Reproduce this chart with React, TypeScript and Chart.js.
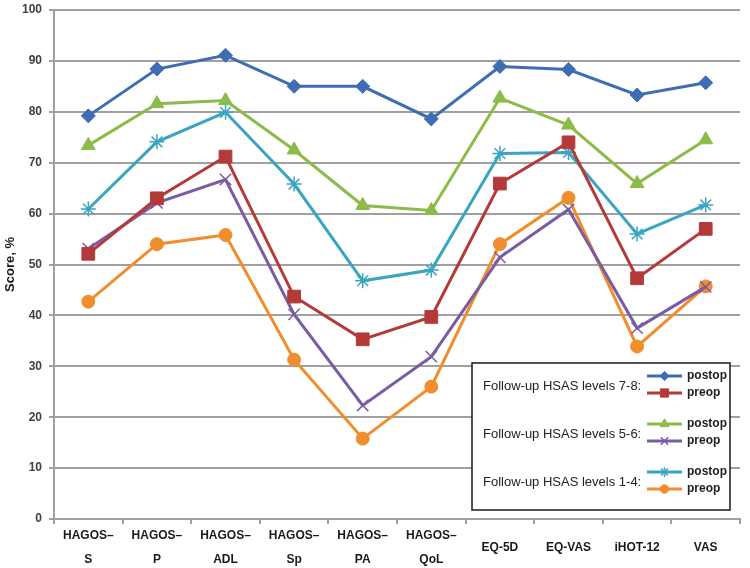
import React, { useEffect, useRef } from "react";
import { Chart, registerables } from "chart.js";
import { drawPoint } from "chart.js/helpers";

Chart.register(...registerables);

const categories: (string | string[])[] = [
  ["HAGOS–", "S"],
  ["HAGOS–", "P"],
  ["HAGOS–", "ADL"],
  ["HAGOS–", "Sp"],
  ["HAGOS–", "PA"],
  ["HAGOS–", "QoL"],
  "EQ-5D",
  "EQ-VAS",
  "iHOT-12",
  "VAS",
];

const postop78 = [79.2, 88.4, 91.1, 85.0, 85.0, 78.6, 88.9, 88.3, 83.3, 85.7];
const preop78 = [52.1, 63.0, 71.2, 43.7, 35.3, 39.7, 65.9, 74.0, 47.3, 57.0];
const postop56 = [73.4, 81.6, 82.2, 72.5, 61.6, 60.6, 82.7, 77.4, 65.9, 74.5];
const preop56 = [53.1, 62.1, 66.7, 40.2, 22.3, 31.9, 51.4, 60.8, 37.5, 45.6];
const postop14 = [60.9, 74.1, 79.9, 65.8, 46.8, 48.9, 71.8, 72.0, 56.0, 61.7];
const preop14 = [42.7, 54.0, 55.8, 31.3, 15.8, 26.0, 54.0, 63.1, 33.9, 45.7];

const yTicks = [0, 10, 20, 30, 40, 50, 60, 70, 80, 90, 100];

const legendGroups = [
  "Follow-up HSAS levels 7-8:",
  "Follow-up HSAS levels 5-6:",
  "Follow-up HSAS levels 1-4:",
];

const FONT = "'Liberation Sans', Arial, sans-serif";

const legendPlugin = {
  id: "groupLegend",
  afterDraw(chart: any) {
    const ctx = chart.ctx as CanvasRenderingContext2D;
    const ds = chart.data.datasets;
    ctx.save();
    const bx = 472, by = 363, bw = 258, bh = 147;
    ctx.fillStyle = "#ffffff";
    ctx.fillRect(bx, by, bw, bh);
    ctx.strokeStyle = "#1a1a1a";
    ctx.lineWidth = 1.5;
    ctx.strokeRect(bx, by, bw, bh);
    const groupY = [385, 433, 481];
    for (let g = 0; g < 3; g++) {
      const cy = groupY[g];
      ctx.fillStyle = "#222";
      ctx.font = `13px ${FONT}`;
      ctx.textAlign = "left";
      ctx.textBaseline = "middle";
      ctx.fillText(legendGroups[g], 483, cy + 1);
      for (let k = 0; k < 2; k++) {
        const d = ds[g * 2 + k];
        const ly = cy - 9 + k * 17;
        ctx.strokeStyle = d.borderColor;
        ctx.lineWidth = 3;
        ctx.beginPath();
        ctx.moveTo(647, ly);
        ctx.lineTo(682, ly);
        ctx.stroke();
        ctx.fillStyle = d.pointBackgroundColor;
        ctx.strokeStyle = d.pointBorderColor;
        ctx.lineWidth = d.pointBorderWidth;
        drawPoint(ctx, {
          pointStyle: d.pointStyle,
          radius: d.pointRadius * 0.65,
          rotation: 0,
          borderWidth: d.pointBorderWidth,
        } as any, 664.5, ly);
        ctx.fillStyle = "#222";
        ctx.font = `bold 12px ${FONT}`;
        ctx.fillText(k === 0 ? "postop" : "preop", 687, ly);
      }
    }
    ctx.restore();
  },
};

function mk(label: string, data: number[], color: string, style: string, r: number, bw = 1) {
  return {
    label,
    data,
    borderColor: color,
    backgroundColor: color,
    pointBackgroundColor: color,
    pointBorderColor: color,
    pointStyle: style,
    pointRadius: r,
    pointBorderWidth: bw,
    borderWidth: 3,
    tension: 0,
  };
}

export default function App() {
  const ref = useRef<HTMLCanvasElement>(null);
  useEffect(() => {
    document.body.style.margin = "0";
    const chart = new Chart(ref.current!, {
      type: "line",
      data: {
        labels: categories,
        datasets: [
          mk("postop 7-8", postop78, "#3E6DB3", "rectRot", 7),
          mk("preop 7-8", preop78, "#B43A3A", "rect", 9),
          mk("postop 5-6", postop56, "#8DBB49", "triangle", 8),
          mk("preop 5-6", preop56, "#7A5CA4", "crossRot", 8, 1.5),
          mk("postop 1-4", postop14, "#3AA5C0", "star", 7.5, 1.5),
          mk("preop 1-4", preop14, "#F08E2D", "circle", 6.5),
        ] as any,
      },
      options: {
        animation: false,
        responsive: false,
        maintainAspectRatio: false,
        layout: { padding: { top: 5, right: 2, left: 0, bottom: 0 } },
        plugins: {
          legend: { display: false },
          tooltip: { enabled: false },
        },
        scales: {
          x: {
            offset: true,
            grid: {
              offset: true,
              drawOnChartArea: false,
              drawTicks: true,
              tickLength: 5,
              color: "#a0a0a0",
              lineWidth: 2,
            },
            border: { color: "#a0a0a0", width: 2 },
            ticks: {
              maxRotation: 0,
              minRotation: 0,
              autoSkip: false,
              crossAlign: "center",
              padding: 12,
              color: "#1a1a1a",
              font: { family: FONT, size: 12, weight: "bold", lineHeight: 2 },
            },
            afterFit(scale: any) {
              scale.height = 49;
              scale.paddingLeft = 0;
              scale.paddingRight = 0;
            },
          },
          y: {
            min: 0,
            max: 100,
            afterBuildTicks(scale: any) {
              scale.ticks = yTicks.map((v) => ({ value: v }));
            },
            grid: {
              color: "#a0a0a0",
              lineWidth: 2,
              tickLength: 5,
            },
            border: { color: "#a0a0a0", width: 2 },
            ticks: {
              padding: 7,
              color: "#404040",
              font: { family: FONT, size: 12, weight: "bold" },
            },
            title: {
              display: true,
              text: "Score, %",
              color: "#1a1a1a",
              padding: { top: 3, bottom: 0 },
              font: { family: FONT, size: 13, weight: "bold" },
            },
            afterFit(scale: any) {
              scale.width = 54;
              scale.paddingTop = 0;
              scale.paddingBottom = 0;
            },
          },
        },
      },
      plugins: [legendPlugin],
    });
    return () => chart.destroy();
  }, []);
  return (
    <div style={{ width: 750, height: 568, background: "#fff" }}>
      <canvas ref={ref} width={750} height={568} style={{ display: "block" }} />
    </div>
  );
}
